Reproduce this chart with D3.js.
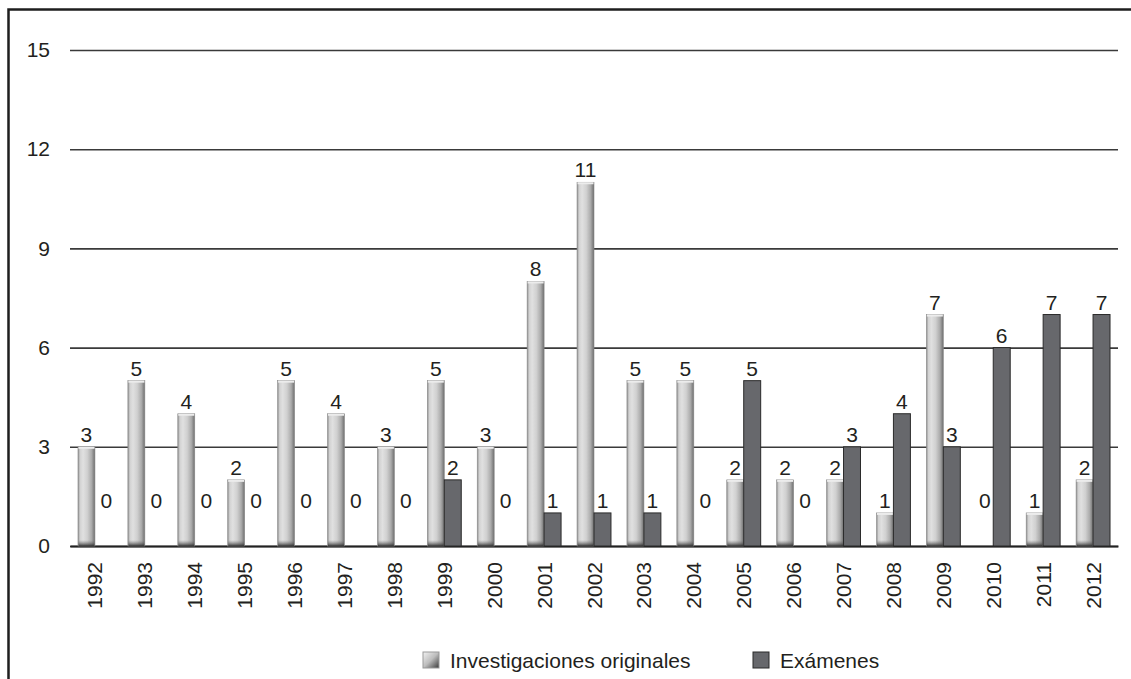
<!DOCTYPE html>
<html>
<head>
<meta charset="utf-8">
<script src="https://cdn.jsdelivr.net/npm/d3@7"></script>
<style>
  html, body { margin: 0; padding: 0; background: #fff; }
  svg { display: block; font-family: "Liberation Sans", Arial, sans-serif; }
</style>
</head>
<body>
<svg id="chart" width="1131" height="679"></svg>
<script>
// Publications per year, split by type
const years = ["1992","1993","1994","1995","1996","1997","1998","1999","2000","2001","2002",
               "2003","2004","2005","2006","2007","2008","2009","2010","2011","2012"];
const investigaciones = [3,5,4,2,5,4,3,5,3,8,11,5,5,2,2,2,1,7,0,1,2];
const examenes        = [0,0,0,0,0,0,0,2,0,1,1,1,0,5,0,3,4,3,6,7,7];
const seriesNames = ["Investigaciones originales", "Exámenes"];
const yTicks = [0,3,6,9,12,15];

const svg = d3.select("#chart");
const W = 1131, H = 679;
const plot = { left: 70, right: 1118, top: 50, bottom: 546 };
const textColor = "#231f20";
const fontFamily = "'Liberation Sans', Arial, sans-serif";
const fs = 21;

// Outer frame (runs past the right and bottom edges)
svg.append("rect")
  .attr("x", 8.5).attr("y", 9.5)
  .attr("width", W + 20).attr("height", H + 20)
  .attr("fill", "none").attr("stroke", "#1e1e1e").attr("stroke-width", 2.5);

// Gradients for the shaded bars
const defs = svg.append("defs");
const g1 = defs.append("linearGradient").attr("id", "lightBar")
  .attr("x1", "0").attr("x2", "1").attr("y1", "0").attr("y2", "0");
[["0%", "#8c8c8c"], ["12%", "#d2d2d2"], ["30%", "#e0e0e0"], ["55%", "#d0d0d0"],
 ["80%", "#ababab"], ["100%", "#6e6e6e"]]
  .forEach(([o, c]) => g1.append("stop").attr("offset", o).attr("stop-color", c));

const g2 = defs.append("linearGradient").attr("id", "lightBase")
  .attr("x1", "0").attr("x2", "0").attr("y1", "0").attr("y2", "1");
[["0%", "#7a7a7a", 0], ["100%", "#2a2a2a", 0.9]]
  .forEach(([o, c, a]) => g2.append("stop").attr("offset", o).attr("stop-color", c).attr("stop-opacity", a));

const g3 = defs.append("linearGradient").attr("id", "legendLight")
  .attr("x1", "0").attr("x2", "1").attr("y1", "0").attr("y2", "1");
[["0%", "#f2f2f2"], ["50%", "#bdbdbd"], ["100%", "#3a3a3a"]]
  .forEach(([o, c]) => g3.append("stop").attr("offset", o).attr("stop-color", c));

// Scales
const x0 = d3.scaleBand().domain(years).range([plot.left, plot.right])
  .paddingInner(0.32).paddingOuter(0.16);
const x1 = d3.scaleBand().domain([0, 1]).range([0, x0.bandwidth()]);
const y = d3.scaleLinear().domain([0, 15]).range([plot.bottom, plot.top]);

// Gridlines and y labels
const yAxis = d3.axisLeft(y).tickValues(yTicks).tickSize(-(plot.right - plot.left)).tickPadding(20);
const ya = svg.append("g").attr("transform", `translate(${plot.left},0)`).call(yAxis)
  .attr("font-family", fontFamily).attr("font-size", fs);
ya.select(".domain").remove();
ya.selectAll(".tick line").attr("stroke", "#3a3a3a").attr("stroke-width", 1.6);
ya.selectAll(".tick text").attr("fill", textColor);

// x labels, rotated
const xAxis = d3.axisBottom(x0).tickSize(0).tickPadding(0);
const xa = svg.append("g").attr("transform", `translate(0,${plot.bottom})`).call(xAxis)
  .attr("font-family", fontFamily).attr("font-size", fs);
xa.select(".domain").attr("stroke", "#222").attr("stroke-width", 1.8);
xa.selectAll(".tick text")
  .attr("fill", textColor)
  .attr("text-anchor", "end")
  .attr("dy", null)
  .attr("dominant-baseline", "central")
  .attr("transform", "translate(0,16) rotate(-90)");

// Bars
const groups = svg.append("g").selectAll("g").data(years).join("g")
  .attr("transform", d => `translate(${x0(d)},0)`);

const bw = x1.bandwidth();

groups.each(function(d, i) {
  const g = d3.select(this);
  // Investigaciones originales: shaded light bars
  const v = investigaciones[i];
  if (v > 0) {
    const top = y(v), h = y(0) - y(v);
    g.append("rect").attr("x", x1(0)).attr("y", top).attr("width", bw).attr("height", h)
      .attr("fill", "url(#lightBar)").attr("stroke", "#8a8a8a").attr("stroke-width", 0.6);
    g.append("rect").attr("x", x1(0) + 0.5).attr("y", top).attr("width", bw - 1).attr("height", 2)
      .attr("fill", "#ececec");
    g.append("rect").attr("x", x1(0) + 0.5).attr("y", y(0) - 6).attr("width", bw - 1).attr("height", 6)
      .attr("fill", "url(#lightBase)");
  }
  // Exámenes: flat dark bars
  const e = examenes[i];
  if (e > 0) {
    g.append("rect").attr("x", x1(1)).attr("y", y(e)).attr("width", bw).attr("height", y(0) - y(e))
      .attr("fill", "#67686c").attr("stroke", "#2a2a2a").attr("stroke-width", 1);
  }
});

// Value labels
function labelY(v) { return v === 0 ? y(0) - 38 : y(v) - 5; }
groups.append("text")
  .attr("x", x1(0) + bw / 2).attr("y", (d, i) => labelY(investigaciones[i]))
  .attr("text-anchor", "middle").attr("font-size", fs).attr("fill", textColor)
  .text((d, i) => investigaciones[i]);
groups.append("text")
  .attr("x", (d, i) => x1(1) + bw / 2 + (examenes[i] === 0 ? 3 : 0))
  .attr("y", (d, i) => labelY(examenes[i]))
  .attr("text-anchor", "middle").attr("font-size", fs).attr("fill", textColor)
  .text((d, i) => examenes[i]);

// Legend
const legend = svg.append("g");
const legendItems = [
  { name: seriesNames[0], x: 423, fill: "url(#legendLight)", stroke: "#9a9a9a" },
  { name: seriesNames[1], x: 753, fill: "#67686c", stroke: "#2a2a2a" }
];
legendItems.forEach(it => {
  legend.append("rect").attr("x", it.x).attr("y", 652).attr("width", 16).attr("height", 16)
    .attr("fill", it.fill).attr("stroke", it.stroke).attr("stroke-width", 1);
  legend.append("text").attr("x", it.x + 27).attr("y", 668)
    .attr("font-size", fs).attr("fill", textColor).text(it.name);
});
</script>
</body>
</html>
